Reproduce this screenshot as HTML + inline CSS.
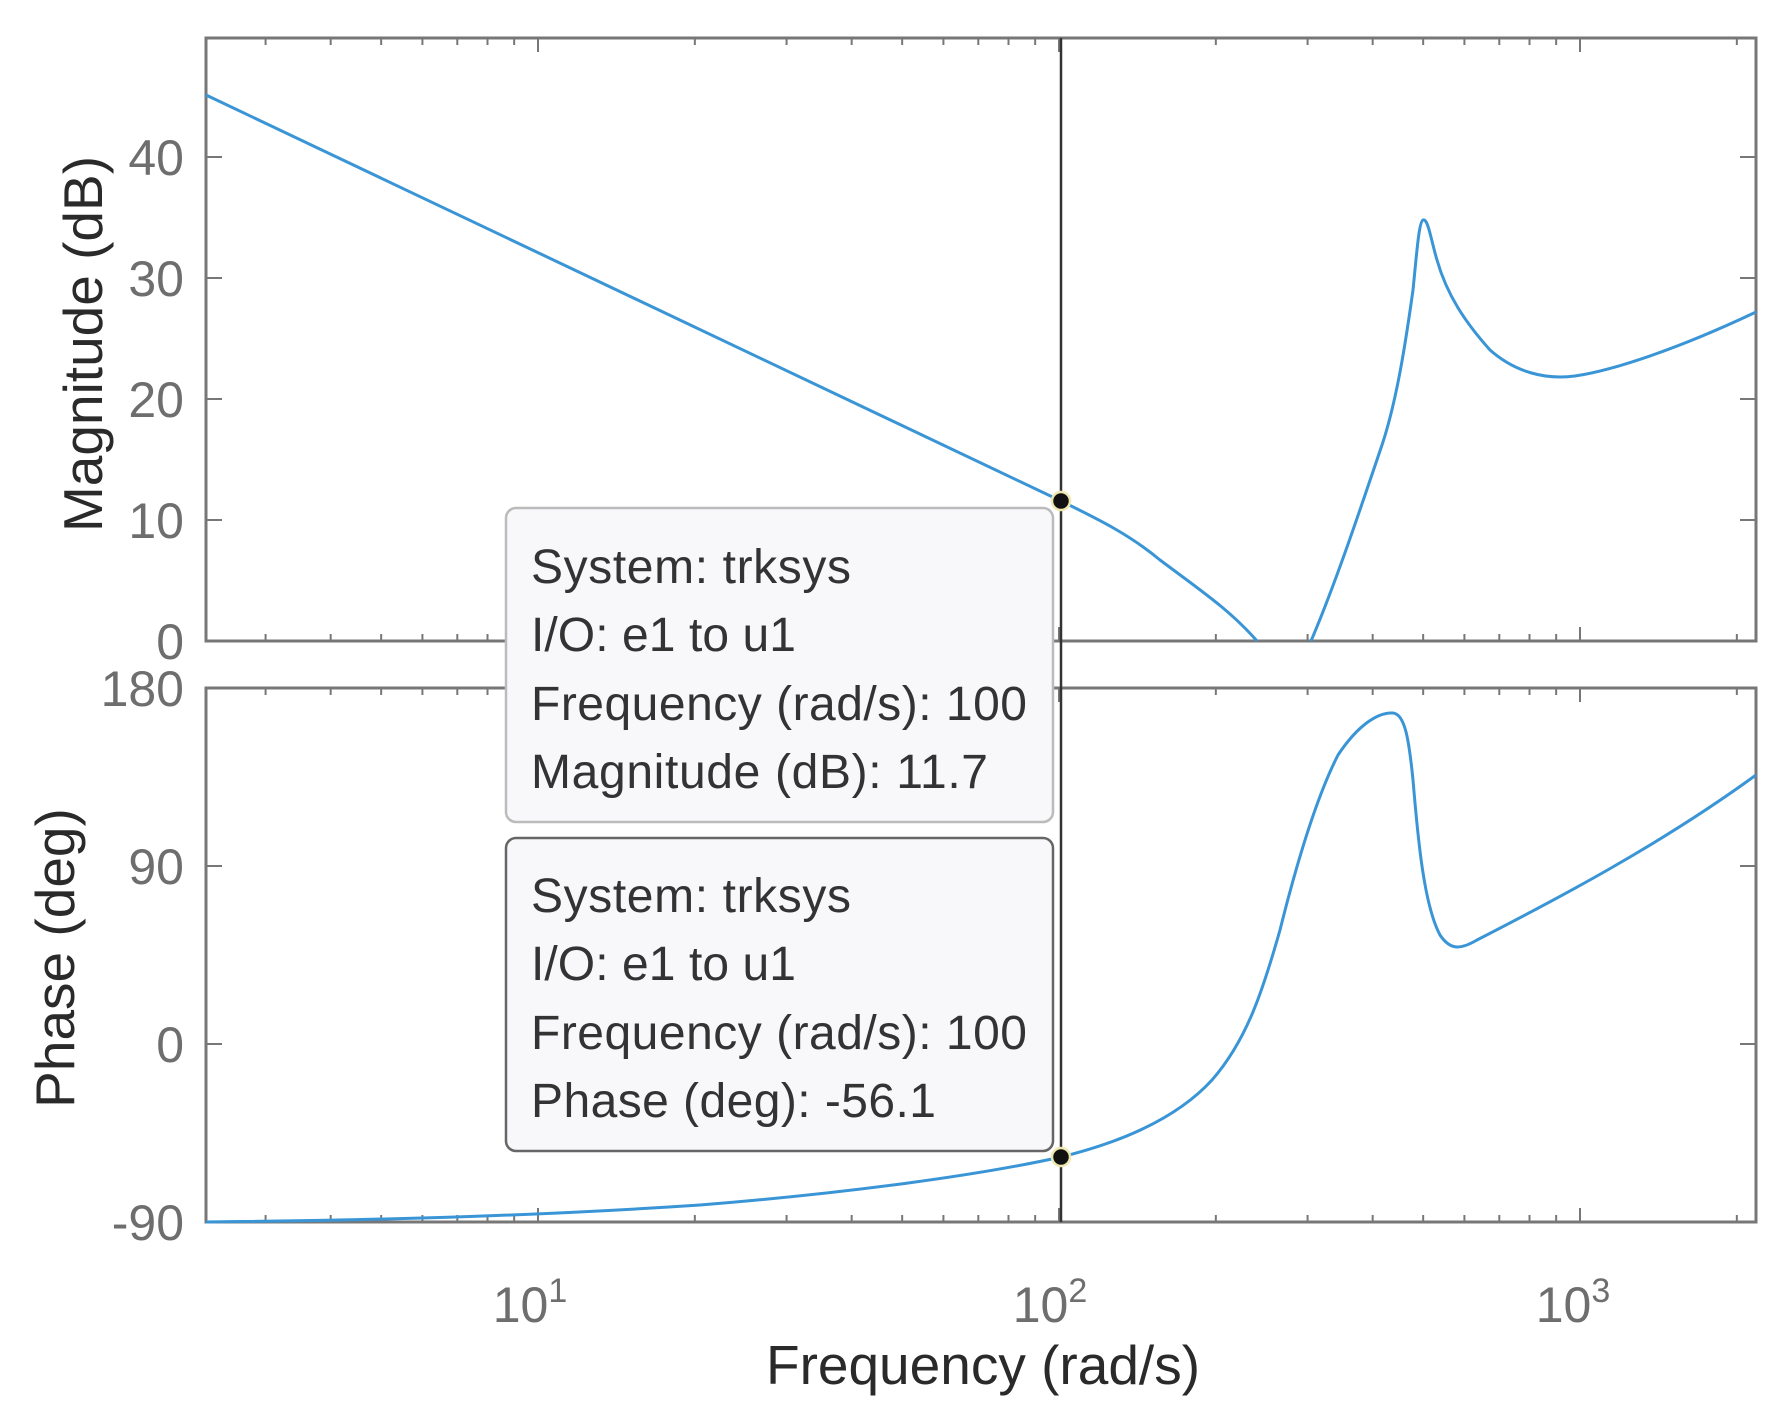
<!DOCTYPE html>
<html><head><meta charset="utf-8"><style>
html,body{margin:0;padding:0;background:#fff;}
svg{display:block;font-family:"Liberation Sans",sans-serif;}
.tl{fill:#6e6e6e;font-size:50px;}
.dt{fill:#333;font-size:48px;}
</style></head><body>
<svg id="s" width="1790" height="1410" viewBox="0 0 1790 1410" xmlns="http://www.w3.org/2000/svg">
<rect width="1790" height="1410" fill="#fff"/>
<g id="ticks" stroke="#777" stroke-width="2"></g>
<rect x="206" y="38" width="1550" height="603" fill="none" stroke="#777" stroke-width="3"/>
<rect x="206" y="688" width="1550" height="534" fill="none" stroke="#777" stroke-width="3"/>
<g class="tl" text-anchor="end" textLength="">
<text x="184" y="175">40</text><text x="184" y="296">30</text><text x="184" y="417">20</text><text x="184" y="538">10</text><text x="184" y="659">0</text>
<text x="184" y="706">180</text><text x="184" y="884">90</text><text x="184" y="1062">0</text><text x="184" y="1240">-90</text>
</g>
<g class="tl" text-anchor="middle">
<text x="530" y="1322">10<tspan dy="-20" font-size="34">1</tspan></text>
<text x="1050" y="1322">10<tspan dy="-20" font-size="34">2</tspan></text>
<text x="1573" y="1322">10<tspan dy="-20" font-size="34">3</tspan></text>
</g>
<text x="983" y="1384" text-anchor="middle" fill="#2a2a2a" font-size="55">Frequency  (rad/s)</text>
<text transform="translate(102,344) rotate(-90)" text-anchor="middle" fill="#2a2a2a" font-size="55">Magnitude (dB)</text>
<text transform="translate(74,958) rotate(-90)" text-anchor="middle" fill="#2a2a2a" font-size="55">Phase (deg)</text>
<line x1="1061" y1="38" x2="1061" y2="1222" stroke="#333" stroke-width="2.5"/>
<path fill="none" stroke="#3a95d6" stroke-width="3" d="M206,95 L1061,501 C1100,520 1130,535 1160,560 C1200,590 1230,610 1257,641"/>
<path fill="none" stroke="#3a95d6" stroke-width="3" d="M1311,641 C1335,585 1360,510 1382,445 C1397,400 1406,340 1413,290 C1417,250 1419,222 1423,220 C1428,218 1431,240 1437,260 C1447,295 1465,322 1490,350 C1515,372 1545,380 1575,376 C1615,370 1680,348 1756,312"/>
<path fill="none" stroke="#3a95d6" stroke-width="3" d="M206,1222 C400,1220 550,1215 700,1205 C850,1193 980,1175 1061,1157 C1130,1140 1180,1115 1212,1080 C1247,1040 1263,990 1280,930 C1295,870 1315,800 1338,755 C1358,725 1378,712 1393,713 C1405,714 1409,740 1413,780 C1418,840 1424,905 1440,935 C1450,950 1460,950 1477,940 C1555,900 1660,845 1756,775"/>
<rect x="506" y="508" width="547" height="314" rx="10" fill="#f8f8fb" stroke="#bbb" stroke-width="2.5"/>
<rect x="506" y="838" width="547" height="313" rx="10" fill="#f8f8fb" stroke="#666" stroke-width="2.5"/>
<g class="dt">
<text x="531" y="583" textLength="320">System: trksys</text>
<text x="531" y="651" textLength="265">I/O: e1 to u1</text>
<text x="531" y="720" textLength="496">Frequency (rad/s): 100</text>
<text x="531" y="788" textLength="457">Magnitude (dB): 11.7</text>
<text x="531" y="912" textLength="320">System: trksys</text>
<text x="531" y="980" textLength="265">I/O: e1 to u1</text>
<text x="531" y="1049" textLength="496">Frequency (rad/s): 100</text>
<text x="531" y="1117" textLength="405">Phase (deg): -56.1</text>
</g>
<circle cx="1061" cy="501" r="9" fill="#111" stroke="#eee8b0" stroke-width="2.5"/>
<circle cx="1061" cy="1157" r="9" fill="#111" stroke="#eee8b0" stroke-width="2.5"/>
</svg>
<script>
(function(){
var g=document.getElementById('ticks'),s='';
var X0=538,D=521,L=206,R=1756;
function xp(v){return X0+(Math.log10(v)-1)*D;}
var panels=[[38,641],[688,1222]];
for(var e=0;e<=3;e++){for(var m=1;m<10;m++){var x=xp(m*Math.pow(10,e));if(x<=L+1||x>=R-1)continue;var len=(m==1)?14:7;
panels.forEach(function(p){s+='<line x1="'+x+'" y1="'+p[0]+'" x2="'+x+'" y2="'+(p[0]+len)+'"/>';s+='<line x1="'+x+'" y1="'+p[1]+'" x2="'+x+'" y2="'+(p[1]-len)+'"/>';});}}
[157,278,399,520,866,1044].forEach(function(y){s+='<line x1="206" y1="'+y+'" x2="222" y2="'+y+'"/><line x1="1756" y1="'+y+'" x2="1740" y2="'+y+'"/>';});
g.innerHTML=s;
})();
</script>
</body></html>
